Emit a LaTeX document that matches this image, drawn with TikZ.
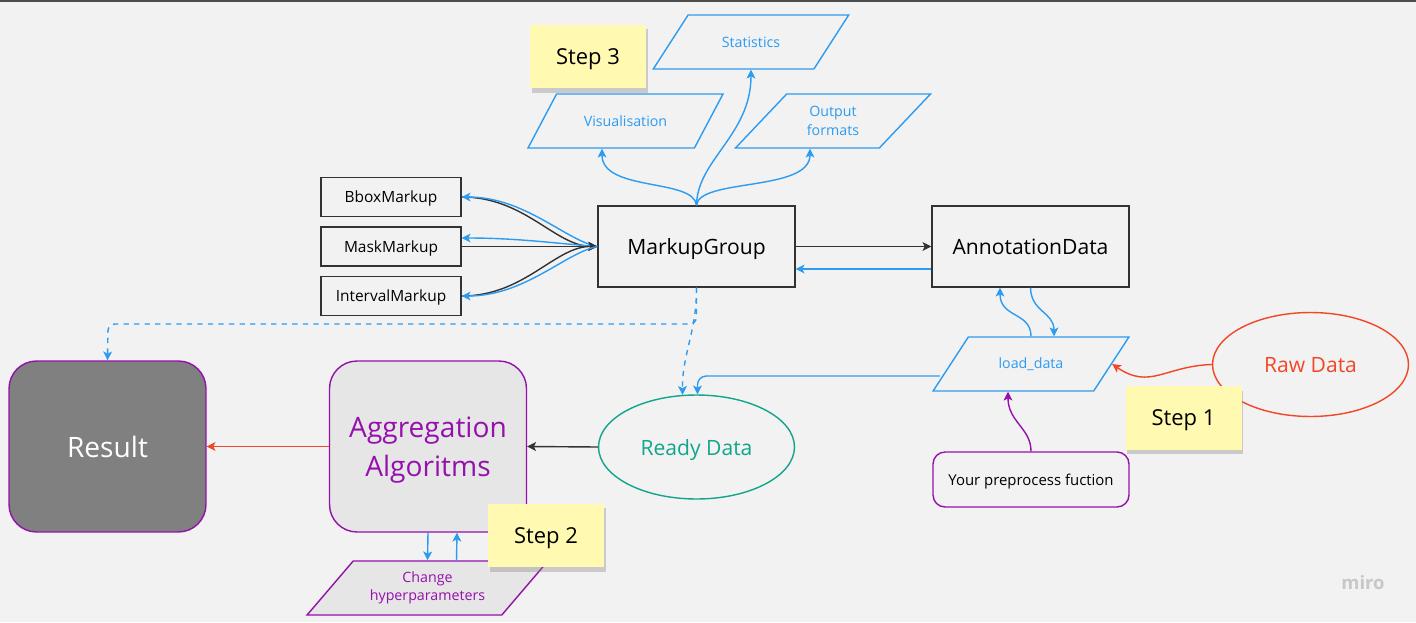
\documentclass[tikz,border=0pt]{standalone}
\usepackage{fontspec}
\setmainfont{Open Sans}
\usetikzlibrary{shapes,shadows,calc}
\usetikzlibrary{arrows,arrows.meta,decorations.markings}

\definecolor{miroblue}{HTML}{2D9BF0}
\definecolor{miropurple}{HTML}{9510AC}
\definecolor{mirogreen}{HTML}{12A58B}
\definecolor{mirored}{HTML}{F24726}
\definecolor{stickyyellow}{HTML}{FFF9B1}
\definecolor{boardgray}{HTML}{F2F2F2}
\definecolor{edgegray}{HTML}{333333}
\definecolor{resultgray}{HTML}{808080}
\definecolor{agggray}{HTML}{E6E6E6}

\begin{document}
\begin{tikzpicture}[x=0.02cm, y=-0.02cm, line width=0.8pt]
	\tikzstyle{markup} = [rectangle, minimum width=2.8cm, minimum height=0.78cm, text depth=0pt, draw=edgegray, font=\fontsize{8.8}{10}\selectfont]
	\tikzstyle{core} = [rectangle, minimum width=3.94cm, minimum height=1.62cm, text depth=0pt, draw=edgegray, font=\fontsize{12}{14}\selectfont]
	\tikzstyle{io} = [trapezium, trapezium left angle=49, trapezium right angle=131, trapezium stretches=true, minimum width=3.92cm, minimum height=1.08cm, draw=miroblue, text=miroblue, align=center, font=\fontsize{8.1}{10.5}\selectfont]
	\tikzstyle{data} = [ellipse, minimum width=3.92cm, minimum height=2.08cm, text depth=0pt, font=\fontsize{12}{14}\selectfont]
	\tikzstyle{bigbox} = [rectangle, rounded corners=0.55cm, minimum width=3.94cm, minimum height=3.42cm, text depth=0pt, draw=miropurple, align=center, font=\fontsize{16}{22}\selectfont]
	\tikzstyle{sticky} = [rectangle, fill=stickyyellow, minimum width=2.32cm, minimum height=1.27cm, text depth=0pt, font=\fontsize{12.5}{14}\selectfont, drop shadow={shadow xshift=1pt, shadow yshift=-2.5pt, opacity=0.35}]
	\tikzstyle{arrow} = [->,>={Stealth[length=5pt,width=5pt,inset=1.2pt]}]

	% board
	\fill [boardgray] (0,0) rectangle (1416,622);
	\useasboundingbox (0,0) rectangle (1416,622);
	\draw [line width=1.2pt, black!70] (0,0.6) -- (1416,0.6);

	% markups and core objects
	\node (bbox) [markup] at (391,197) {BboxMarkup};
	\node (mask) [markup] at (391,246.5) {MaskMarkup};
	\node (interval) [markup] at (391,296) {IntervalMarkup};
	\node (mg) [core] at (696.5,246.5) {MarkupGroup};
	\node (ad) [core] at (1030.5,246.5) {AnnotationData};

	% outputs
	\node (stat) [io] at (751,42) {Statistics};
	\node (vis) [io] at (625.5,121) {Visualisation};
	\node (out) [io] at (833,121) {Output\\formats};

	% loading
	\node (ld) [io] at (1031,364) {load\_data};
	\node (raw) [data, draw=mirored, text=mirored] at (1310.5,364.5) {Raw Data};
	\node (pre) [rectangle, rounded corners=0.24cm, minimum width=3.92cm, minimum height=1.1cm, text depth=0pt, draw=miropurple, font=\fontsize{8.5}{10}\selectfont] at (1031,479.5) {Your preprocess fuction};

	% aggregation
	\node (rd) [data, draw=mirogreen, text=mirogreen] at (696.5,447) {Ready Data};
	\node (agg) [bigbox, fill=agggray, text=miropurple] at (428,446.5) {Aggregation\\Algoritms};
	\node (result) [bigbox, fill=resultgray, text=white] at (107.5,446.5) {Result};
	\node (chg) [io, trapezium left angle=48.4, trapezium right angle=131.6, minimum width=4.82cm, fill=agggray, draw=miropurple, text=miropurple] at (427.5,588) {Change\\hyperparameters};

	% markup links
	\draw [arrow, edgegray] (bbox.east) .. controls (525,197) and (555,246) .. (mg.west);
	\draw [arrow, miroblue] (mg.west) .. controls (565,240) and (525,197) .. (bbox.east);
	\draw [arrow, edgegray] (mask.east) -- (mg.west);
	\draw [arrow, miroblue] (mg.west) .. controls (560,244) and (520,238) .. ($(mask.east)+(0,-8.5)$);
	\draw [arrow, edgegray] (interval.east) .. controls (525,296) and (555,246) .. (mg.west);
	\draw [arrow, miroblue] (mg.west) .. controls (565,253) and (525,296) .. (interval.east);

	\draw [arrow, edgegray] (mg.east) -- (ad.west);
	\draw [arrow, miroblue] ($(ad.west)+(0,22.5)$) -- ($(mg.east)+(0,22.5)$);

	\draw [arrow, miroblue] (mg.north) .. controls (694,178) and (602,192) .. ($(vis.south)+(-23.5,0)$);
	\draw [arrow, miroblue] (mg.north) .. controls (697,160) and (751,135) .. (stat.south);
	\draw [arrow, miroblue] (mg.north) .. controls (699,178) and (810,192) .. ($(out.south)+(-23,0)$);

	% loading links
	\draw [arrow, miroblue] (ld.north) .. controls (1031,312) and (1000,318) .. ($(ad.south)+(-30.5,0)$);
	\draw [arrow, miroblue] (ad.south) .. controls (1031,312) and (1054,312) .. ($(ld.north)+(23,0)$);
	\draw [arrow, mirored] (raw.west) .. controls (1165,366) and (1150,390) .. (ld.east);
	\draw [arrow, miropurple] (pre.north) .. controls (1031,428) and (1008,422) .. ($(ld.south)+(-23,0)$);
	\draw [arrow, miroblue, rounded corners=5] ($(ld.west)+(-10,12)$) -| ($(rd.north)+(1,0)$);

	% dashed links
	\coordinate (bend) at (108,324);
	\draw [arrow, miroblue, dashed, rounded corners=4] (mg.south) |- (bend) -- (result.north);
	\draw [arrow, miroblue, dashed] (mg.south) .. controls (697,330) and (682,355) .. (rd.105);

	% aggregation links
	\draw [arrow, edgegray] (rd.west) -- (agg.east);
	\draw [arrow, mirored] (agg.west) -- (result.east);
	\draw [arrow, miroblue] (agg.south) -- (chg.north);
	\draw [arrow, miroblue] ($(chg.north)+(29,0)$) -- ($(agg.south)+(29,0)$);

	% stickies
	\node (step3) [sticky] at (588,56.5) {Step 3};
	\node (step1) [sticky] at (1183.5,418) {Step 1};
	\node (step2) [sticky] at (546,535.5) {Step 2};

	\node (miro) [text=black!22, font=\fontsize{10.5}{12}\selectfont\bfseries] at (1363,583) {miro};
\end{tikzpicture}
\end{document}
